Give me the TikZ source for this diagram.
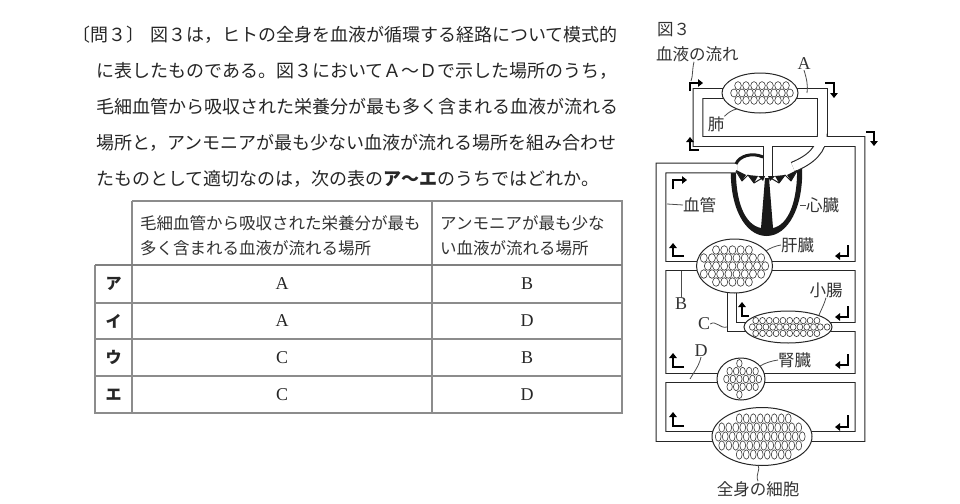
\documentclass[tikz,border=0pt]{standalone}
\usepackage{fontspec}
\setmainfont{Noto Sans CJK JP}
\newfontfamily\lat{Liberation Serif}
\usetikzlibrary{arrows.meta}
\newcommand\organ[8]{%
  \path[orgline] (#1,#2) ellipse [x radius=#3, y radius=#4];
  \pgfmathtruncatemacro\onx{ceil(#3/#7)}%
  \pgfmathtruncatemacro\ony{ceil(#4/#8)}%
  \foreach \j in {-\ony,...,\ony}{%
    \foreach \i in {-\onx,...,\onx}{%
      \pgfmathsetmacro\ox{(\i-0.25+0.5*mod(abs(\j),2))*#7}%
      \pgfmathsetmacro\oy{\j*#8}%
      \pgfmathsetmacro\oa{\ox/(#3-#5-1.2)}%
      \pgfmathsetmacro\ob{\oy/(#4-#6-1.2)}%
      \pgfmathsetmacro\oin{\oa*\oa+\ob*\ob}%
      \pgfmathsetmacro\px{#1+\ox}%
      \pgfmathsetmacro\py{#2+\oy}%
      \ifdim\oin pt<1pt
        \draw[cellst] (\px,\py) ellipse [x radius=#5, y radius=#6];
      \fi
    }%
  }%
}
\newcommand\tubenet[1]{%
  \draw[#1] (793,167) .. controls (810,160) and (822.5,150) .. (822.5,132)
     -- (822.5,93.5) -- (698,93.5) -- (698,141.5) -- (860,141.5)
     -- (860,436.5) -- (661,436.5) -- (661,168) -- (737,168);
  \draw[#1] (768,141.5) -- (768,178);
  \draw[#1] (661,266) -- (860,266);
  \draw[#1] (732,282) -- (732,327) -- (860,327);
  \draw[#1] (661,378) -- (860,378);
}
\begin{document}
\begin{tikzpicture}[x=1pt,y=-1pt,
  txt/.style={anchor=west,inner sep=0pt,text=black!85,font=\fontsize{18}{18}\selectfont},
  hd/.style={anchor=west,inner sep=0pt,text=black!80,font=\fontsize{16.5}{16.5}\selectfont},
  cellv/.style={inner sep=0pt,text=black!85,font=\lat\fontsize{18}{18}\selectfont},
  rowl/.style={inner sep=0pt,text=black!85,font=\fontsize{16}{16}\selectfont\bfseries},
  tline/.style={draw=black!45,line width=1.1pt},
  lbl/.style={inner sep=0pt,text=black!80,font=\fontsize{16.5}{16.5}\selectfont},
  llbl/.style={inner sep=0pt,text=black!80,font=\lat\fontsize{18}{18}\selectfont},
  lead/.style={draw=black!70,line width=0.8pt},
  tubeo/.style={line width=10.8pt,draw=black!85,line join=miter},
  tubei/.style={line width=8.6pt,draw=white,line join=miter},
  flow/.style={line width=2.6pt,draw=black,-{Triangle[length=5pt,width=7.5pt]}},
  orgline/.style={draw=black!85,line width=1pt,fill=white},
  cellst/.style={draw=black!80,line width=0.6pt},
]
\useasboundingbox (0,0) rectangle (960,503);
\fill[white] (0,0) rectangle (960,503);

% ---------- question text ----------
\node[txt] (l1a) at (72,35) {〔問３〕};
\node[txt] (l1b) at (150,35) {図３は，ヒトの全身を血液が循環する経路について模式的};
\node[txt] (l2) at (96,71) {に表したものである。図３においてＡ～Ｄで示した場所のうち，};
\node[txt] (l3) at (96,107) {毛細血管から吸収された栄養分が最も多く含まれる血液が流れる};
\node[txt] (l4) at (96,143) {場所と，アンモニアが最も少ない血液が流れる場所を組み合わせ};
\node[txt] (l5) at (96,179) {たものとして適切なのは，次の表の\textbf{ア～エ}のうちではどれか。};

% ---------- table ----------
\draw[tline] (132,201) -- (622,201) -- (622,413) -- (95,413) -- (95,265);
\draw[tline] (132,201) -- (132,413);
\draw[tline] (432,201) -- (432,413);
\draw[draw=black!50,line width=2pt] (95,265) -- (622,265);
\draw[tline] (95,303) -- (622,303);
\draw[tline] (95,339) -- (622,339);
\draw[tline] (95,376) -- (622,376);
\node[hd] (h1a) at (140,223) {毛細血管から吸収された栄養分が最も};
\node[hd] (h1b) at (140,248) {多く含まれる血液が流れる場所};
\node[hd] (h2a) at (440,223) {アンモニアが最も少な};
\node[hd] (h2b) at (440,248) {い血液が流れる場所};
\node[rowl] (r1) at (113.5,284) {ア};
\node[rowl] (r2) at (113.5,321) {イ};
\node[rowl] (r3) at (113.5,357.5) {ウ};
\node[rowl] (r4) at (113.5,394.5) {エ};
\node[cellv] (a1) at (282,284) {A};
\node[cellv] (a2) at (282,321) {A};
\node[cellv] (a3) at (282,357.5) {C};
\node[cellv] (a4) at (282,394.5) {C};
\node[cellv] (b1) at (527,284) {B};
\node[cellv] (b2) at (527,321) {D};
\node[cellv] (b3) at (527,357.5) {B};
\node[cellv] (b4) at (527,394.5) {D};

% ---------- figure ----------
\node[lbl,anchor=west] (fig) at (657,30) {図３};
\node[lbl,anchor=west] (flowlbl) at (656,54) {血液の流れ};

% heart body
\fill[black!90] (731,166) .. controls (729,207) and (745,236) .. (766.5,236)
   .. controls (788,236) and (804,207) .. (802,166)
   -- (797,166) .. controls (798,202) and (788,225) .. (773,228)
   -- (769,178) -- (765,178) -- (761,228)
   .. controls (745,225) and (735,202) .. (736,166) -- cycle;

% vessels
\tubenet{tubeo}
\tubenet{tubei}

% heart details
\fill[black!90] (736,170) -- (742,181) -- (746,175) -- cycle;
\fill[black!90] (748,175) -- (754,183) -- (758,176) -- cycle;
\fill[black!90] (758,176) -- (763,181) -- (765,176) -- cycle;
\fill[black!90] (797,170) -- (791,181) -- (787,175) -- cycle;
\fill[black!90] (785,175) -- (779,183) -- (775,176) -- cycle;
\fill[black!90] (775,176) -- (770,181) -- (768,176) -- cycle;
\draw[black!90,line width=1pt,line join=round] (736,171) -- (742,181) -- (748,175) -- (754,183) -- (764,177);
\draw[black!90,line width=1pt,line join=round] (769,177) -- (779,183) -- (785,175) -- (791,181) -- (797,171);
\draw[black!90,line width=3pt] (736,164) .. controls (739,156) and (752,152) .. (763,157);

% organs
\organ{760}{93}{38}{20}{3.3}{4}{8}{7.4}
\organ{734.5}{266}{38}{27}{3.5}{4.3}{8.2}{8}
\organ{788}{327}{44}{16}{2.9}{3.2}{6.8}{6.4}
\organ{741}{379}{24}{21}{2.7}{3.9}{6.5}{7.8}
\organ{762}{436.5}{50}{29}{2.9}{4.7}{7}{9}

% flow arrows
\draw[flow] (690,91) -- (690,83) -- (703,83);
\draw[flow] (825,83) -- (834,83) -- (834,98);
\draw[flow] (699,150) -- (690,150) -- (690,137);
\draw[flow] (866,132) -- (874,132) -- (874,146);
\draw[flow] (673,189) -- (673,180) -- (687,180);
\draw[flow] (684,256) -- (673,256) -- (673,243);
\draw[flow] (848,245) -- (848,256) -- (835,256);
\draw[flow] (749,316) -- (742,316) -- (742,302);
\draw[flow] (848,306) -- (848,317) -- (835,317);
\draw[flow] (684,367) -- (673,367) -- (673,353);
\draw[flow] (848,354) -- (848,365) -- (835,365);
\draw[flow] (684,426) -- (673,426) -- (673,412);
\draw[flow] (848,415) -- (848,427) -- (835,427);

% labels
\node[lbl] (lung) at (716,124) {肺};
\node[lbl,anchor=west] (vessel) at (683,205) {血管};
\node[lbl,anchor=west] (heartl) at (806,205) {心臓};
\node[lbl,anchor=west] (liverl) at (781,245) {肝臓};
\node[lbl] (intl) at (826,290) {小腸};
\node[lbl,anchor=west] (kidl) at (778,360) {腎臓};
\node[lbl] (bodyl) at (758,489) {全身の細胞};
\node[llbl] (lA) at (804,64) {A};
\node[llbl] (lB) at (681,304) {B};
\node[llbl] (lC) at (704,324) {C};
\node[llbl] (lD) at (701,351) {D};

% leader targets
\coordinate (tFlow) at (691,81);
\coordinate (tLung) at (737,109);
\coordinate (tVes) at (667,204);
\coordinate (tHeart) at (800,205);
\coordinate (tLiv) at (766,251);
\coordinate (tInt) at (819,315);
\coordinate (tKid) at (760,366);
\coordinate (tBody) at (758,465);
\coordinate (tA) at (807,93);
\coordinate (tB) at (681,271);
\coordinate (tC) at (727,327);
\coordinate (tD) at (690,379);

% leaders
\draw[lead] ([xshift=38pt]flowlbl.south west) .. controls (692,70) and (693,76) .. (tFlow);
\draw[lead] (lung.north east) .. controls (729,112) and (732,110) .. (tLung);
\draw[lead] (tVes) -- (vessel.west);
\draw[lead] (tHeart) -- (heartl.west);
\draw[lead] (liverl.west) .. controls (775,246) and (770,248) .. (tLiv);
\draw[lead] (intl.south) .. controls (824,305) and (821,310) .. (tInt);
\draw[lead] (kidl.west) .. controls (771,361) and (765,363) .. (tKid);
\draw[lead] (bodyl.north) .. controls (755,474) and (761,470) .. (tBody);
\draw[lead] (lA.south) .. controls (807,80) and (808,86) .. (tA);
\draw[lead] (lB.north) -- (tB);
\draw[lead] (lC.east) .. controls (716,320) and (720,329) .. (tC);
\draw[lead] (lD.south) .. controls (699,366) and (694,372) .. (tD);
\end{tikzpicture}
\end{document}
